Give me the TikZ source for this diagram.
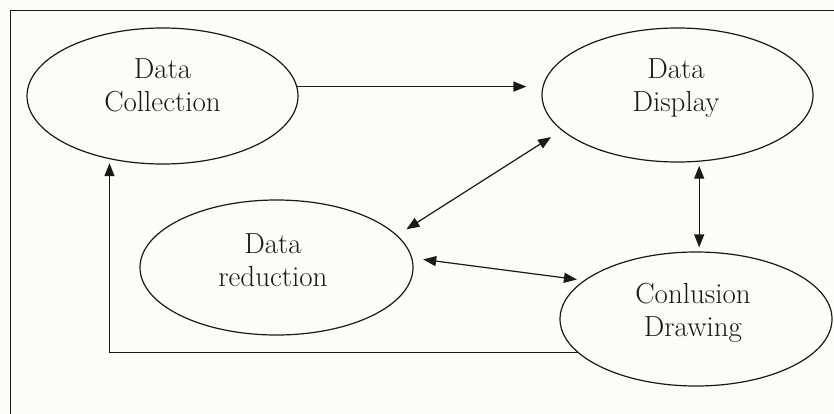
\documentclass[tikz,border=0pt]{standalone}
\usetikzlibrary{shapes.geometric,arrows.meta}
\definecolor{bgc}{RGB}{252,252,248}
\definecolor{inkc}{RGB}{25,25,25}
\begin{document}
\begin{tikzpicture}[x=1pt,y=-1pt,
  blob/.style={draw=inkc,ellipse,line width=1.2pt,inner sep=0pt},
  txt/.style={anchor=north,inner sep=0pt,align=center,text=inkc,font=\fontsize{29}{33.5}\selectfont},
  tip/.style={},
  arr/.style={draw=inkc,line width=1.2pt,-{Triangle[length=13pt,width=10pt]}},
  dbl/.style={draw=inkc,line width=1.2pt,{Triangle[length=13pt,width=10pt]}-{Triangle[length=13pt,width=10pt]}}]
\useasboundingbox (0,0) rectangle (834,414);
\fill[bgc] (0,0) rectangle (834,414);
% frame
\draw[inkc,line width=1.6pt] (10.5,414) -- (10.5,10.5) -- (834,10.5);
% ellipses
\node[blob,minimum width=271pt,minimum height=136pt] (dc) at (162.5,96) {};
\node[blob,minimum width=271pt,minimum height=134pt] (dd) at (677.5,95) {};
\node[blob,minimum width=273pt,minimum height=135pt] (dr) at (276.5,267.5) {};
\node[blob,minimum width=272pt,minimum height=134pt] (cd) at (696,319) {};
% texts
\node[txt] (tdc) at (162.5,58) {Data\\Collection};
\node[txt] (tdd) at (676,58) {Data\\Display};
\node[txt] (tdr) at (273,233) {Data\\reduction};
\node[txt] (tcd) at (693,283) {Conlusion\\Drawing};
% connectors
\draw[arr,shorten >=15pt] (dc.4) -- (dc.4 -| dd.west);
\draw[dbl,shorten <=12.5pt,shorten >=11pt] (dd.197.7) -- (dr.15.4);
\draw[dbl,shorten <=4pt,shorten >=4pt] (dd.-72) -- (dd.-72 |- cd.north);
\draw[dbl,shorten <=11pt,shorten >=7pt] (dr.4.7) -- (cd.161.3);
\draw[arr,shorten >=4pt] (cd.196.2) -| (dc.230.1);
\end{tikzpicture}
\end{document}
